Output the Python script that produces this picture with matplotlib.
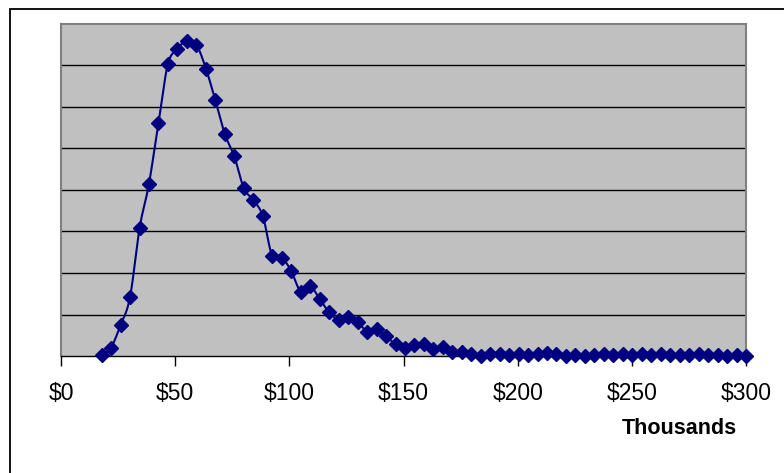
import matplotlib
matplotlib.use('Agg')
import matplotlib.pyplot as plt
from matplotlib.patches import Rectangle
from matplotlib.ticker import FuncFormatter
import numpy as np

plt.rcParams['font.family'] = ['Liberation Sans', 'DejaVu Sans']

# income in thousands of dollars
income = [17.8, 21.9, 26.1, 30.2, 34.4, 38.5, 42.7, 46.8, 51.0, 55.2,
          59.3, 63.5, 67.6, 71.8, 75.9, 80.1, 84.2, 88.4, 92.5, 96.7,
          100.8, 105.0, 109.1, 113.3, 117.4, 121.6, 125.7, 129.9, 134.0, 138.2,
          142.3, 146.5, 150.6, 154.8, 158.9, 163.1, 167.2, 171.4, 175.5, 179.7,
          183.8, 188.0, 192.1, 196.3, 200.4, 204.6, 208.7, 212.9, 217.0, 221.2,
          225.3, 229.5, 233.6, 237.8, 241.9, 246.1, 250.2, 254.4, 258.5, 262.7,
          266.8, 271.0, 275.1, 279.3, 283.4, 287.6, 291.7, 295.9, 300.0]
share = [0.02, 0.20, 0.75, 1.41, 3.08, 4.14, 5.62, 7.03, 7.40, 7.60,
         7.50, 6.92, 6.16, 5.34, 4.81, 4.04, 3.76, 3.37, 2.41, 2.37,
         2.05, 1.55, 1.69, 1.37, 1.06, 0.87, 0.95, 0.83, 0.59, 0.64,
         0.47, 0.29, 0.20, 0.27, 0.28, 0.16, 0.22, 0.10, 0.10, 0.06,
         0.01, 0.06, 0.05, 0.03, 0.05, 0.03, 0.05, 0.08, 0.04, 0.01,
         0.03, 0.01, 0.02, 0.05, 0.02, 0.06, 0.03, 0.05, 0.02, 0.04,
         0.02, 0.03, 0.02, 0.05, 0.02, 0.02, 0.01, 0.02, 0.01]
xticks = [0, 50, 100, 150, 200, 250, 300]


def smooth(x, y, steps=12):
    # Catmull-Rom curve through the points, like Excel's smoothed line
    x = np.asarray(x, float)
    y = np.asarray(y, float)
    px = np.concatenate([[x[0]], x, [x[-1]]])
    py = np.concatenate([[y[0]], y, [y[-1]]])
    t = np.linspace(0, 1, steps, endpoint=False)
    xs, ys = [], []
    for i in range(1, len(px) - 2):
        for p, out in ((px, xs), (py, ys)):
            p0, p1, p2, p3 = p[i - 1], p[i], p[i + 1], p[i + 2]
            out.extend(0.5 * (2 * p1 + (-p0 + p2) * t
                              + (2 * p0 - 5 * p1 + 4 * p2 - p3) * t ** 2
                              + (-p0 + 3 * p1 - 3 * p2 + p3) * t ** 3))
    xs.append(x[-1])
    ys.append(y[-1])
    return np.array(xs), np.array(ys)


fig = plt.figure(figsize=(7.84, 4.73), dpi=100)
fig.patch.set_facecolor('white')
W, H = 784, 473
ax = fig.add_axes([61 / W, (H - 356) / H, (746 - 61) / W, (356 - 24) / H])
ax.set_facecolor('#c0c0c0')

# outer chart frame
fig.patches.append(Rectangle((9.5 / W, -0.1), 1.1, (H - 9.5) / H + 0.1,
                             transform=fig.transFigure, fill=False,
                             edgecolor='black', linewidth=1.3))

sx, sy = smooth(income, share)
ax.plot(sx, sy, color='#000080', linewidth=1.5, zorder=3, clip_on=False)
ax.plot(income, share, linestyle='none', marker='D', markersize=7.5,
        color='#000080', zorder=4, clip_on=False)

ax.set_xlim(0, 300)
ax.set_ylim(0, 8)
ax.set_yticks(np.arange(1, 8))
ax.yaxis.grid(True, color='black', linewidth=1)
ax.set_axisbelow(True)
ax.tick_params(axis='y', left=False, labelleft=False)
ax.set_xticks(xticks)
ax.xaxis.set_major_formatter(FuncFormatter(lambda v, p: f'${v:.0f}'))
ax.tick_params(axis='x', direction='out', length=7, width=1, color='black',
               labelsize=16.5, pad=12)

for side in ('left', 'right', 'top'):
    ax.spines[side].set_color('#808080')
    ax.spines[side].set_linewidth(1.5)
ax.spines['bottom'].set_color('black')
ax.spines['bottom'].set_linewidth(1)

fig.text(679 / W, 1 - 429 / H, 'Thousands', ha='center', va='center',
         fontsize=15.5, fontweight='bold')

fig.savefig('out.png', dpi=100)
